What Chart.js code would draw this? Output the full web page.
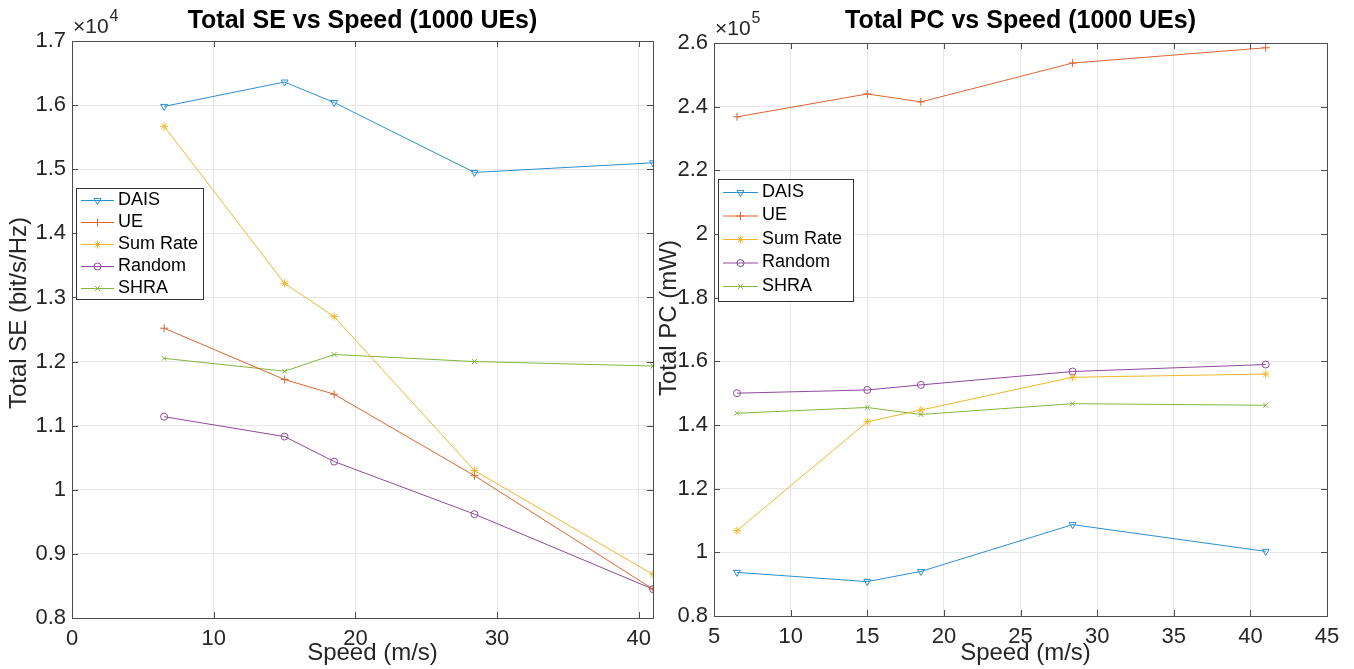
<!DOCTYPE html>
<html>
<head>
<meta charset="utf-8">
<script src="https://cdn.jsdelivr.net/npm/chart.js@4/dist/chart.umd.min.js"></script>
<style>
  html, body { margin: 0; padding: 0; background: #fff; }
  .pane { position: absolute; top: 0; height: 669px; }
</style>
</head>
<body>
<div class="pane" style="left:0;width:677px"><canvas id="seChart" width="677" height="669"></canvas></div>
<div class="pane" style="left:650px;width:704px"><canvas id="pcChart" width="704" height="669"></canvas></div>
<script>
// speeds (m/s) shared by both panels
const speeds = [6.5, 15, 18.5, 28.4, 41];
const seriesNames = ['DAIS', 'UE', 'Sum Rate', 'Random', 'SHRA'];

// total SE (bit/s/Hz)
const seDais = [15980, 16360, 16040, 14950, 15100];
const seUe = [12520, 11720, 11490, 10220, 8450];
const seSumRate = [15670, 13220, 12700, 10300, 8680];
const seRandom = [11140, 10830, 10440, 9620, 8450];
const seShra = [12050, 11850, 12110, 12000, 11930];

// total PC (mW)
const pcDais = [93700, 90800, 94000, 108700, 100300];
const pcUe = [236800, 244000, 241500, 253700, 258500];
const pcSumRate = [106800, 141000, 144700, 155000, 156000];
const pcRandom = [150000, 151000, 152600, 156800, 159000];
const pcShra = [143700, 145500, 143300, 146700, 146200];

const colors = ['#2b8fd0', '#dc6530', '#edb82e', '#8e4a9e', '#82b640'];
const markers = [
  { style: 'triangle', rot: 180, r: 4 },
  { style: 'cross', rot: 0, r: 4 },
  { style: 'star', rot: 0, r: 4 },
  { style: 'circle', rot: 0, r: 3.5 },
  { style: 'crossRot', rot: 0, r: 3.5 }
];
const FONT = "'Liberation Sans', Arial, Helvetica, sans-serif";

function makeDatasets(arrays) {
  return arrays.map((vals, i) => ({
    label: seriesNames[i],
    data: speeds.map((s, j) => ({ x: s, y: vals[j] })),
    borderColor: colors[i],
    backgroundColor: 'transparent',
    borderWidth: 1,
    pointStyle: markers[i].style,
    pointRotation: markers[i].rot,
    pointRadius: markers[i].r,
    pointBorderWidth: 1,
    pointBackgroundColor: 'transparent',
    pointBorderColor: colors[i],
    tension: 0
  }));
}

// draws the box, inner ticks, title, axis labels, exponent and legend
const decorPlugin = {
  id: 'decor',
  afterDraw(chart, args, o) {
    const ctx = chart.ctx;
    const a = chart.chartArea;
    ctx.save();
    // inner tick marks
    ctx.strokeStyle = '#4d4d4d';
    ctx.lineWidth = 1;
    const xs = chart.scales.x, ys = chart.scales.y;
    ctx.beginPath();
    xs.ticks.forEach(t => {
      const px = Math.round(xs.getPixelForValue(t.value)) + 0.5;
      ctx.moveTo(px, a.bottom); ctx.lineTo(px, a.bottom - 6);
      ctx.moveTo(px, a.top); ctx.lineTo(px, a.top + 6);
    });
    ys.ticks.forEach(t => {
      const py = Math.round(ys.getPixelForValue(t.value)) + 0.5;
      ctx.moveTo(a.left, py); ctx.lineTo(a.left + 6, py);
      ctx.moveTo(a.right, py); ctx.lineTo(a.right - 6, py);
    });
    ctx.stroke();
    // box
    ctx.strokeRect(Math.round(a.left) + 0.5, Math.round(a.top) + 0.5,
      Math.round(a.right - a.left), Math.round(a.bottom - a.top));

    ctx.fillStyle = '#000';
    // title
    ctx.font = 'bold 25px ' + FONT;
    ctx.textAlign = 'center';
    ctx.textBaseline = 'middle';
    ctx.fillText(o.title, (a.left + a.right) / 2, 21);

    ctx.fillStyle = '#262626';
    // x label
    ctx.font = '24px ' + FONT;
    ctx.fillText('Speed (m/s)', (a.left + a.right) / 2 + o.xlabelShift, 653);
    // y label
    ctx.save();
    ctx.translate(o.ylabelX, o.ylabelY);
    ctx.rotate(-Math.PI / 2);
    ctx.fillText(o.ylabel, 0, 0);
    ctx.restore();
    // exponent
    ctx.textAlign = 'left';
    ctx.font = '21px ' + FONT;
    const ex = a.left + 1;
    ctx.fillText('\u00d710', ex, a.top - 14);
    const w = ctx.measureText('\u00d710').width;
    ctx.font = '16px ' + FONT;
    ctx.fillText(o.exponent, ex + w + 1, a.top - 24);

    // legend
    const L = o.legend;
    ctx.fillStyle = '#fff';
    ctx.fillRect(L.x, L.y, L.w, L.h);
    ctx.strokeStyle = '#333';
    ctx.strokeRect(L.x + 0.5, L.y + 0.5, L.w, L.h);
    ctx.font = '18px ' + FONT;
    ctx.textBaseline = 'middle';
    chart.data.datasets.forEach((ds, i) => {
      const cy = L.y + L.first + i * L.step;
      ctx.strokeStyle = ds.borderColor;
      ctx.lineWidth = 1;
      ctx.beginPath();
      ctx.moveTo(L.x + 5, cy + 0.5);
      ctx.lineTo(L.x + L.sample, cy + 0.5);
      ctx.stroke();
      ctx.fillStyle = 'rgba(0,0,0,0)';
      Chart.helpers.drawPoint(ctx, {
        pointStyle: ds.pointStyle, rotation: ds.pointRotation,
        radius: ds.pointRadius, borderWidth: 1
      }, L.x + 5 + (L.sample - 5) / 2, cy + 0.5);
      ctx.fillStyle = '#000';
      ctx.fillText(ds.label, L.x + L.sample + 4, cy);
    });
    ctx.restore();
  }
};

function makeChart(id, arrays, cfg) {
  return new Chart(document.getElementById(id), {
    type: 'line',
    data: { datasets: makeDatasets(arrays) },
    plugins: [decorPlugin],
    options: {
      responsive: false,
      devicePixelRatio: 1,
      animation: false,
      layout: { padding: cfg.padding },
      plugins: {
        legend: { display: false },
        tooltip: { enabled: false },
        decor: cfg.decor
      },
      scales: {
        x: {
          type: 'linear',
          min: cfg.xmin, max: cfg.xmax,
          grid: { color: '#e6e6e6', drawTicks: false },
          border: { display: false },
          ticks: {
            stepSize: cfg.xstep, includeBounds: false, padding: 8,
            color: '#262626', font: { family: FONT, size: 22 }, maxRotation: 0
          },
          afterFit: s => { s.height = cfg.xAxisH; }
        },
        y: {
          min: cfg.ymin, max: cfg.ymax,
          grid: { color: '#e6e6e6', drawTicks: false },
          border: { display: false },
          ticks: {
            stepSize: cfg.ystep, padding: 6,
            color: '#262626', font: { family: FONT, size: 22 },
            callback: v => String(+(v / cfg.yscale).toFixed(1))
          },
          afterFit: s => { s.width = cfg.yAxisW; }
        }
      }
    }
  });
}

makeChart('seChart', [seDais, seUe, seSumRate, seRandom, seShra], {
  padding: { left: 0, top: 41, right: 24, bottom: 0 },
  xmin: 0, xmax: 41, xstep: 10,
  ymin: 8000, ymax: 17000, ystep: 1000, yscale: 1e4,
  xAxisH: 51, yAxisW: 72,
  decor: {
    title: 'Total SE vs Speed (1000 UEs)',
    ylabel: 'Total SE (bit/s/Hz)', ylabelX: 19, ylabelY: 313,
    xlabelShift: 10, exponent: '4',
    legend: { x: 76, y: 188, w: 127, h: 111, first: 12, step: 22, sample: 38 }
  }
});

makeChart('pcChart', [pcDais, pcUe, pcSumRate, pcRandom, pcShra], {
  padding: { left: 0, top: 43, right: 27, bottom: 0 },
  xmin: 5, xmax: 45, xstep: 5,
  ymin: 80000, ymax: 260000, ystep: 20000, yscale: 1e5,
  xAxisH: 53, yAxisW: 64,
  decor: {
    title: 'Total PC vs Speed (1000 UEs)',
    ylabel: 'Total PC (mW)', ylabelX: 19, ylabelY: 318,
    xlabelShift: 5, exponent: '5',
    legend: { x: 68, y: 179, w: 135, h: 122, first: 13, step: 23.5, sample: 40 }
  }
});
</script>
</body>
</html>
